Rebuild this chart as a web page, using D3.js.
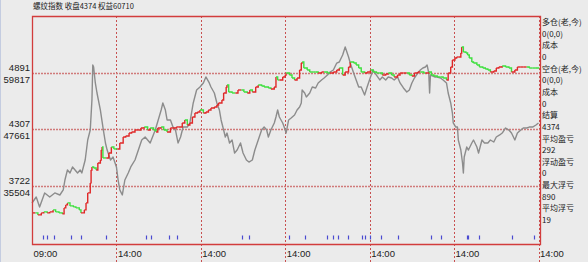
<!DOCTYPE html>
<html>
<head>
<meta charset="utf-8">
<script src="https://cdn.jsdelivr.net/npm/d3@7"></script>
<style>
  html, body { margin: 0; padding: 0; background: #ebebeb; }
  svg { display: block; }
  .num { font-family: "Liberation Sans Narrow", "Liberation Sans", Arial, sans-serif; }
  .cjk { font-family: "Noto Sans CJK SC", sans-serif; }
</style>
</head>
<body>
<div id="chart"></div>
<script>
// chart values
const titleText = "螺纹指数 收盘4374 权益60710";
const sessionBars = [0, 100, 200, 300, 400, 500, 600];
const sessionLabels = ["09:00", "14:00", "14:00", "14:00", "14:00", "14:00", "14:00"];
const priceTicks = [3722, 4307, 4891];
const equityTicks = [35504, 47661, 59817];
const sideLabels = ["多仓(老,今)", "0(0,0)", "成本", "0", "空仓(老,今)", "0(0,0)", "成本", "0",
  "结算", "4374", "平均盈亏", "292", "浮动盈亏", "0", "最大浮亏", "890", "平均浮亏", "19"];

// price (gray) : [bar, price]
const price = [
  [0,3546],[5,3608],[9,3505],[15,3650],[21,3608],[27,3650],[33,3629],[37,3682],[39,3784],[42,3888],
  [45,3857],[48,3919],[51,3888],[54,3857],[57,3888],[59,3857],[63,3991],[66,4198],[69,4301],[71,4612],
  [72,4974],[73,4953],[75,4788],[77,4684],[81,4508],[84,4332],[87,4167],[89,4094],[93,3991],[96,4022],
  [100,3919],[102,3784],[104,3682],[107,3629],[110,3784],[114,3857],[117,3919],[122,3991],[126,4094],[130,4198],
  [134,4229],[140,4167],[146,4301],[149,4390],[153,4508],[155,4581],[158,4508],[160,4405],[164,4405],[167,4332],
  [170,4301],[173,4167],[176,4229],[179,4332],[184,4332],[187,4374],[191,4581],[195,4715],[199,4746],[203,4788],
  [206,4850],[210,4788],[212,4746],[216,4684],[219,4581],[222,4508],[224,4405],[227,4301],[229,4229],[231,4270],
  [234,4167],[237,4198],[240,4063],[243,4094],[247,4167],[250,4063],[254,3991],[257,3970],[261,3991],[264,4094],
  [268,4198],[272,4301],[275,4332],[278,4301],[280,4229],[283,4301],[287,4374],[289,4436],[291,4508],[293,4436],
  [297,4374],[300,4301],[301,4270],[304,4405],[307,4425],[311,4456],[314,4508],[317,4539],[319,4581],[320,4715],
  [323,4684],[325,4643],[329,4684],[332,4746],[336,4736],[339,4788],[343,4819],[346,4839],[350,4870],[353,4901],
  [357,4922],[361,4994],[364,5005],[368,5077],[371,5160],[375,5057],[377,4994],[381,4891],[384,4819],[387,4746],
  [390,4746],[394,4663],[397,4746],[401,4850],[404,4922],[408,4870],[412,4819],[415,4850],[419,4819],[422,4850],
  [426,4839],[429,4819],[433,4850],[436,4788],[440,4736],[444,4694],[447,4715],[450,4788],[453,4839],[457,4891],
  [460,4922],[463,4943],[466,4953],[468,4974],[470,4891],[471,4684],[472,4870],[477,4850],[480,4850],[484,4839],
  [487,4819],[491,4788],[493,4684],[496,4581],[498,4477],[499,4374],[502,4332],[504,4332],[505,4198],[508,4094],
  [510,3960],[511,3857],[512,4022],[515,4125],[517,4094],[521,4167],[523,4198],[527,4125],[529,4063],[533,4198],
  [536,4167],[540,4167],[543,4198],[547,4177],[550,4229],[554,4250],[557,4270],[561,4322],[565,4301],[568,4270],
  [572,4198],[575,4270],[579,4301],[582,4322],[586,4322],[589,4332],[593,4332],[597,4353],[600,4374]
];

// equity (red/green) : [bar, equity]
const equity = [
  [0,29717],[4,29717],[7,29287],[11,29717],[14,29932],[18,29717],[21,29932],[25,30362],[28,29932],[32,29717],
  [36,29502],[38,30792],[40,31437],[42,31867],[45,31222],[49,31007],[52,30792],[56,30362],[58,29717],[62,30362],
  [64,31867],[66,34017],[69,36167],[70,38962],[71,39607],[73,39392],[76,38962],[78,40467],[81,41112],[82,43262],
  [83,43907],[84,41542],[88,41542],[91,42617],[94,43907],[97,43477],[101,43477],[104,44767],[108,46057],[111,46272],
  [115,46917],[118,47132],[122,47562],[126,47562],[129,47992],[133,48207],[137,47562],[140,47992],[144,47562],[147,47132],
  [149,47992],[153,48207],[156,47562],[160,47132],[164,47992],[167,47992],[171,48207],[174,48207],[178,49067],[181,49712],
  [184,48637],[187,49067],[190,50357],[193,51217],[196,51432],[199,51862],[203,51217],[206,51432],[209,51862],[212,52292],
  [216,52507],[219,52937],[221,53367],[225,54012],[227,55517],[230,56807],[231,57237],[233,55732],[237,55517],[241,55517],
  [244,56162],[248,56162],[251,55732],[255,55517],[258,56162],[261,55732],[265,56807],[268,57237],[272,57022],[275,56807],
  [280,56592],[283,56377],[287,56807],[289,58957],[291,58312],[293,58312],[297,58957],[300,59387],[301,59817],[305,59387],
  [308,58742],[311,58312],[314,58742],[317,60462],[319,61967],[320,62182],[322,60892],[326,60462],[329,60032],[333,60032],
  [336,60032],[339,59817],[343,60032],[346,60032],[350,59817],[353,59817],[357,60032],[361,60462],[364,60892],[368,59387],
  [371,60032],[375,61107],[377,62182],[381,61967],[384,61537],[387,60892],[390,60032],[394,59817],[397,60032],[401,60462],
  [404,60032],[408,59817],[412,59817],[415,59387],[419,59602],[422,59817],[426,59387],[429,58957],[433,59387],[436,59817],
  [440,59817],[444,59817],[447,59387],[450,59172],[453,59817],[457,60032],[460,60032],[464,59817],[466,59817],[470,60032],
  [473,59387],[476,59172],[480,58957],[484,58957],[487,58742],[491,58312],[493,59817],[496,61107],[498,62612],[501,63042],
  [503,63257],[505,63257],[508,64117],[509,65407],[511,64332],[514,64117],[516,63687],[518,63042],[521,62182],[523,61967],
  [527,61537],[530,61107],[534,60892],[537,60677],[540,60462],[543,60032],[547,60247],[550,60892],[553,61107],[557,61322],
  [561,61107],[565,60892],[568,60032],[572,60462],[575,61107],[579,61107],[582,61107],[586,61107],[589,60892],[593,60892],
  [597,60892],[600,60710]
];

// trade markers (bars)
const markers = [13, 18, 26, 46, 58, 88, 135, 141, 162, 172, 249, 257, 304, 323, 349, 356, 363, 374,
  391, 394, 400, 414, 433, 473, 484, 515, 517, 530, 569, 595];

const W = 588, H = 262;
const frame = {left: 32, right: 540, top: 16, bottom: 244};

const svg = d3.select("#chart").append("svg")
  .attr("width", W)
  .attr("height", H);

svg.append("rect").attr("width", W).attr("height", H).attr("fill", "#ebebeb");
svg.append("line").attr("x1", 0.5).attr("x2", 0.5).attr("y1", 0).attr("y2", H)
  .attr("stroke", "#c4cce0");

const x = d3.scaleLinear().domain([0, 600]).range([32, 538.5]);
const yP = d3.scaleLinear().domain([3722, 4891]).range([186, 73]);
const yE = d3.scaleLinear().domain([35504, 59817]).range([186, 73]);

// grid
const grid = svg.append("g");
grid.selectAll(".vg")
  .data(sessionBars.slice(1))
  .enter().append("line")
  .attr("x1", d => Math.round(x(d)) + 0.5)
  .attr("x2", d => Math.round(x(d)) + 0.5)
  .attr("y1", frame.top)
  .attr("y2", H)
  .attr("stroke", "#c85050")
  .attr("stroke-width", 1)
  .attr("stroke-dasharray", "2,2");

grid.selectAll(".hg")
  .data(priceTicks)
  .enter().append("line")
  .attr("x1", frame.left)
  .attr("x2", frame.right)
  .attr("y1", d => Math.round(yP(d)) + 0.5)
  .attr("y2", d => Math.round(yP(d)) + 0.5)
  .attr("stroke", "#d07a7a")
  .attr("stroke-width", 1.6)
  .attr("stroke-dasharray", "2,1");

// price line
const priceLine = d3.line()
  .x(d => x(d[0]))
  .y(d => yP(d[1]));

svg.append("path")
  .datum(price)
  .attr("fill", "none")
  .attr("stroke", "#8c8c8c")
  .attr("stroke-width", 1.4)
  .attr("stroke-linejoin", "round")
  .attr("d", priceLine);

// equity line, red when rising, green when falling
const stepLine = d3.line()
  .x(d => x(d[0]))
  .y(d => yE(d[1]))
  .curve(d3.curveStepAfter);

let lastColor = "#e02828";
for (let i = 1; i < equity.length; i++) {
  const a = equity[i - 1], b = equity[i];
  if (b[1] > a[1]) lastColor = "#e02828";
  else if (b[1] < a[1]) lastColor = "#3ee03e";
  svg.append("path")
    .datum([a, b])
    .attr("fill", "none")
    .attr("stroke", lastColor)
    .attr("stroke-width", 1.4)
    .attr("d", stepLine);
}

// trade markers
svg.append("g").selectAll("line")
  .data(markers)
  .enter().append("line")
  .attr("x1", d => Math.round(x(d)) + 0.5)
  .attr("x2", d => Math.round(x(d)) + 0.5)
  .attr("y1", 235.5)
  .attr("y2", 239.5)
  .attr("stroke", "#4a4ad0")
  .attr("stroke-width", 1.2);

// frame
svg.append("path")
  .attr("d", `M${frame.left + 0.5},${frame.bottom + 0.5}V${frame.top + 0.5}H${frame.right + 0.5}V${frame.bottom + 0.5}Z`)
  .attr("fill", "none")
  .attr("stroke", "#d23c3c")
  .attr("stroke-width", 1.3);

// left tick labels
const leftG = svg.append("g").attr("class", "num").style("font-size", "9.5px").attr("fill", "#222");
leftG.selectAll(".pl")
  .data(priceTicks)
  .enter().append("text")
  .attr("x", 30)
  .attr("y", d => yP(d) - 2)
  .attr("text-anchor", "end")
  .text(d => d);
leftG.selectAll(".el")
  .data(equityTicks)
  .enter().append("text")
  .attr("x", 30)
  .attr("y", d => yE(d) + 10)
  .attr("text-anchor", "end")
  .text(d => d);

// bottom time labels
svg.append("g").attr("class", "num").style("font-size", "9.5px").attr("fill", "#222")
  .selectAll("text")
  .data(sessionBars)
  .enter().append("text")
  .attr("x", d => x(d) + 1.5)
  .attr("y", 257)
  .text((d, i) => sessionLabels[i]);

// title
svg.append("text")
  .attr("class", "cjk")
  .attr("x", 33)
  .attr("y", 9)
  .style("font-size", "7.5px")
  .attr("fill", "#222")
  .text(titleText);

// right side panel
svg.append("g").attr("class", "cjk").style("font-size", "8px").attr("fill", "#222")
  .selectAll("text")
  .data(sideLabels)
  .enter().append("text")
  .attr("x", 542)
  .attr("y", (d, i) => 25 + i * 11.65)
  .text(d => d);
</script>
</body>
</html>
